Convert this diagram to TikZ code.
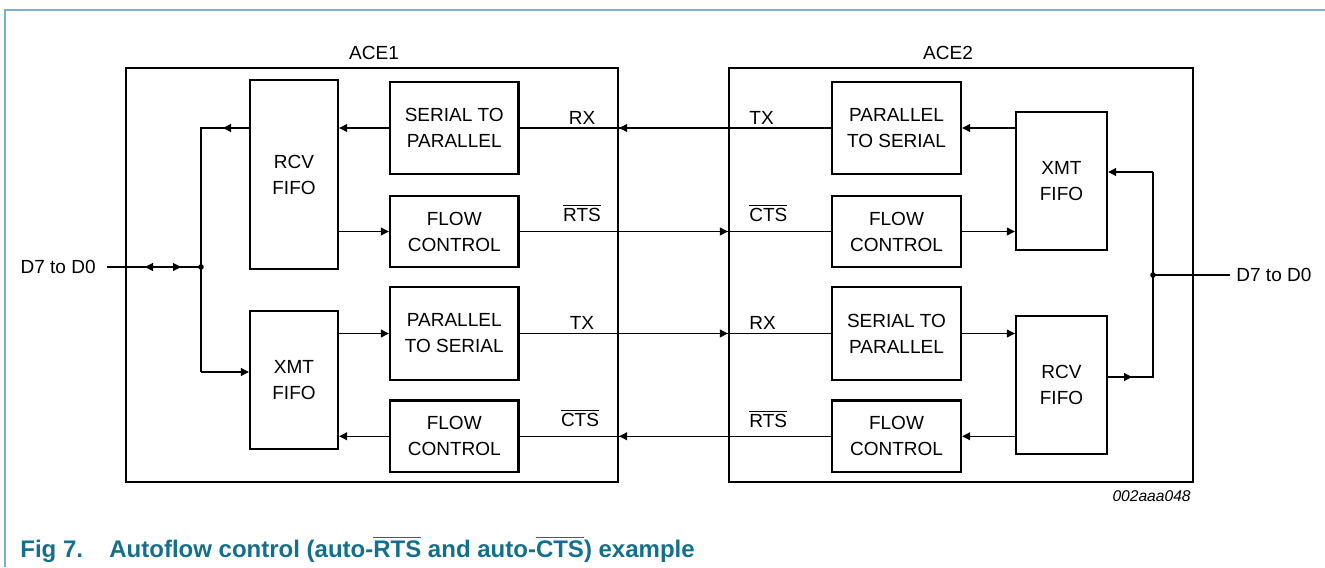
\documentclass[tikz,border=0pt]{standalone}
\usepackage{fontspec}
\setmainfont{Liberation Sans}
\usetikzlibrary{arrows.meta}
\definecolor{capc}{RGB}{18,112,140}
\definecolor{framec}{RGB}{122,176,200}
\newcommand{\ovl}[1]{$\overline{\mbox{#1}}$}
\begin{document}
\begin{tikzpicture}[x=0.5pt,y=-0.5pt,
  blk/.style={draw,line width=1.2pt,align=center,inner sep=0pt,font=\fontsize{9.5}{13}\selectfont},
  ace/.style={draw,line width=1.2pt,inner sep=0pt},
  wire/.style={line width=0.55pt},
  tip/.style={-{Triangle[length=4pt,width=4pt]}},
  lbl/.style={font=\fontsize{9.5}{13}\selectfont,inner sep=0pt},
  dot/.style={circle,fill,inner sep=0pt,minimum size=2.8pt},
  capstyle/.style={anchor=base west,inner sep=0pt,text=capc,font=\fontsize{12}{14}\selectfont\bfseries}]
\useasboundingbox (0,0) rectangle (1325,567);
% frame
\draw[framec,line width=0.8pt] (5,567) -- (5,10) -- (1325,10);
% ACE boxes
\node[ace,minimum width=246pt,minimum height=207pt] (ACE1) at (372,275) {};
\node[ace,minimum width=232pt,minimum height=207pt] (ACE2) at (961,275) {};
\node[lbl] (ace1l) at (374,53) {ACE1};
\node[lbl] (ace2l) at (948,53) {ACE2};
% left blocks
\node[blk,minimum width=44pt,minimum height=94.5pt] (RCVL) at (294,174.5) {RCV\\FIFO};
\node[blk,minimum width=64.25pt,minimum height=46pt] (S2PL) at (454.25,128) {SERIAL TO\\PARALLEL};
\node[blk,minimum width=64.25pt,minimum height=35.5pt] (FCL1) at (454.25,231.5) {FLOW\\CONTROL};
\node[blk,minimum width=64.25pt,minimum height=46.5pt] (P2SL) at (454.25,333.5) {PARALLEL\\TO SERIAL};
\node[blk,minimum width=44pt,minimum height=69pt] (XMTL) at (294,380) {XMT\\FIFO};
\node[blk,minimum width=64.25pt,minimum height=35.75pt] (FCL2) at (454.25,436.25) {FLOW\\CONTROL};
% right blocks
\node[blk,minimum width=64.5pt,minimum height=46pt] (P2SR) at (896.5,128) {PARALLEL\\TO SERIAL};
\node[blk,minimum width=64.5pt,minimum height=35.5pt] (FCR1) at (896.5,231.5) {FLOW\\CONTROL};
\node[blk,minimum width=45.5pt,minimum height=69pt] (XMTR) at (1061.5,181) {XMT\\FIFO};
\node[blk,minimum width=64.5pt,minimum height=46.5pt] (S2PR) at (896.5,333.5) {SERIAL TO\\PARALLEL};
\node[blk,minimum width=45.5pt,minimum height=69pt] (RCVR) at (1061.5,385) {RCV\\FIFO};
\node[blk,minimum width=64.5pt,minimum height=35.75pt] (FCR2) at (896.5,436.25) {FLOW\\CONTROL};
% inter-chip lines
\draw[wire] (P2SR.west) -- (S2PL.east);
\draw[wire,tip] (P2SR.west) -- (ACE1.east |- P2SR.west);
\draw[wire] (FCL1.east) -- (FCR1.west);
\draw[wire,tip] (FCL1.east) -- (ACE2.west |- FCL1.east);
\draw[wire] (P2SL.east) -- (S2PR.west);
\draw[wire,tip] (P2SL.east) -- (ACE2.west |- P2SL.east);
\draw[wire] (FCR2.west) -- (FCL2.east);
\draw[wire,tip] (FCR2.west) -- (ACE1.east |- FCR2.west);
% signal labels
\node[lbl,anchor=base] (rxl) at (582,124) {RX};
\node[lbl,anchor=base] (rtsl) at (582,221.7) {\ovl{RTS}};
\node[lbl,anchor=base] (txl) at (582,329) {TX};
\node[lbl,anchor=base] (ctsl) at (580,426.7) {\ovl{CTS}};
\node[lbl,anchor=base west] (txr) at (749,124) {TX};
\node[lbl,anchor=base west] (ctsr) at (749,221.7) {\ovl{CTS}};
\node[lbl,anchor=base west] (rxr) at (749,329) {RX};
\node[lbl,anchor=base west] (rtsr) at (749,427.7) {\ovl{RTS}};
% internal arrows
\draw[wire,tip] (S2PL.west) -- (RCVL.east |- S2PL.west);
\draw[wire,tip] (RCVL.east |- FCL1.west) -- (FCL1.west);
\draw[wire,tip] (XMTL.east |- P2SL.west) -- (P2SL.west);
\draw[wire,tip] (FCL2.west) -- (XMTL.east |- FCL2.west);
\draw[wire,tip] (XMTR.west |- P2SR.east) -- (P2SR.east);
\draw[wire,tip] (FCR1.east) -- (XMTR.west |- FCR1.east);
\draw[wire,tip] (S2PR.east) -- (RCVR.west |- S2PR.east);
\draw[wire,tip] (RCVR.west |- FCR2.east) -- (FCR2.east);
% left bus
\coordinate (busL) at (201,267);
\coordinate (rcvout) at (201,128);
\coordinate (xmtin) at (201,372);
\coordinate (rcvarr) at (223,128);
\coordinate (dlstart) at (107,267);
\coordinate (dlarrL) at (145,267);
\coordinate (dlarrR) at (181,267);
\draw[wire] (RCVL.west |- rcvout) -- (rcvout) -- (xmtin);
\draw[wire,tip] (RCVL.west |- rcvout) -- (rcvarr);
\draw[wire,tip] (xmtin) -- (XMTL.west |- xmtin);
\node[lbl,anchor=east] (dl) at (96,267) {D7 to D0};
\draw[wire] (dlstart) -- (busL);
\draw[wire,tip] (busL) -- (dlarrL);
\draw[wire,tip] (dlstart) -- (dlarrR);
\node[dot] (dotL) at (busL) {};
% right bus
\coordinate (busR) at (1153,275);
\coordinate (xmtinR) at (1153,172);
\coordinate (rcvoutR) at (1153,377);
\coordinate (rcvarrR) at (1132,377);
\coordinate (drend) at (1230,275);
\draw[wire,tip] (xmtinR) -- (XMTR.east |- xmtinR);
\draw[wire] (xmtinR) -- (rcvoutR) -- (RCVR.east |- rcvoutR);
\draw[wire,tip] (RCVR.east |- rcvoutR) -- (rcvarrR);
\draw[wire] (busR) -- (drend);
\node[lbl,anchor=west] (dr) at (1236,275) {D7 to D0};
\node[dot] (dotR) at (busR) {};
% figure id
\node[anchor=base east,inner sep=0pt,font=\fontsize{7.8}{9}\selectfont\itshape] (figid) at (1191,501) {002aaa048};
% caption
\node[capstyle] (capn) at (20,557) {Fig 7.};
\node[capstyle] (capt) at (109,557) {Autoflow control (auto-\ovl{RTS} and auto-\ovl{CTS}) example};
\end{tikzpicture}
\end{document}
